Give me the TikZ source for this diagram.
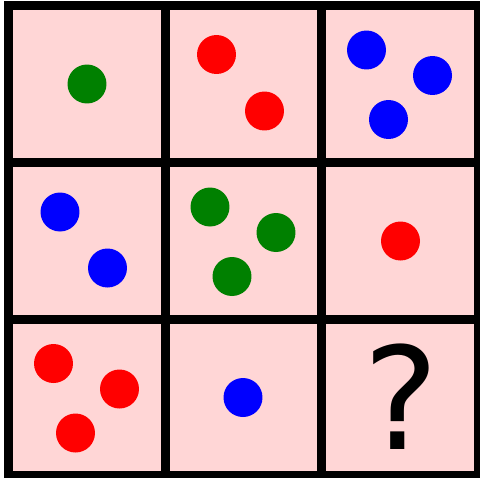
\documentclass[tikz,border=0pt]{standalone}
\usepackage{fontspec}
\newfontfamily\markfont{DejaVu Sans}
\definecolor{cellpink}{RGB}{255,214,214}
\definecolor{dotgreen}{RGB}{0,128,0}

\begin{document}
\begin{tikzpicture}[x=0.02cm, y=-0.02cm,
  dot/.style={circle,inner sep=0pt,minimum size=0.78cm},
  gridline/.style={line width=0.18cm,black}]
  \useasboundingbox (0,0) rectangle (480,477);
  % cells
  \fill[cellpink] (8.5,5.5) rectangle (478.5,475.5);
  % row 1
  \node[dot,fill=dotgreen] (g11) at (87,84) {};
  \node[dot,fill=red]      (r11) at (216.5,54.5) {};
  \node[dot,fill=red]      (r12) at (264.5,111) {};
  \node[dot,fill=blue]     (b11) at (366.5,50) {};
  \node[dot,fill=blue]     (b12) at (432.5,75.5) {};
  \node[dot,fill=blue]     (b13) at (388.5,119.5) {};
  % row 2
  \node[dot,fill=blue]     (b21) at (60,212) {};
  \node[dot,fill=blue]     (b22) at (107.5,268) {};
  \node[dot,fill=dotgreen] (g21) at (210,207) {};
  \node[dot,fill=dotgreen] (g22) at (276,232.5) {};
  \node[dot,fill=dotgreen] (g23) at (232,276.5) {};
  \node[dot,fill=red]      (r21) at (400.5,241) {};
  % row 3
  \node[dot,fill=red]      (r31) at (53.5,363.5) {};
  \node[dot,fill=red]      (r32) at (119.5,389) {};
  \node[dot,fill=red]      (r33) at (75.5,433) {};
  \node[dot,fill=blue]     (b31) at (243,397.5) {};
  \node[anchor=base,inner sep=0pt,font=\markfont\fontsize{81}{81}\selectfont] (q) at (401,449) {?};
  % grid
  \draw[gridline] (8.5,5.5) rectangle (478.5,475.5);
  \foreach \x in {165.5,321.5}
    \draw[gridline] (\x,5.5) -- (\x,475.5);
  \foreach \y in {162.5,319}
    \draw[gridline] (8.5,\y) -- (478.5,\y);
\end{tikzpicture}
\end{document}
